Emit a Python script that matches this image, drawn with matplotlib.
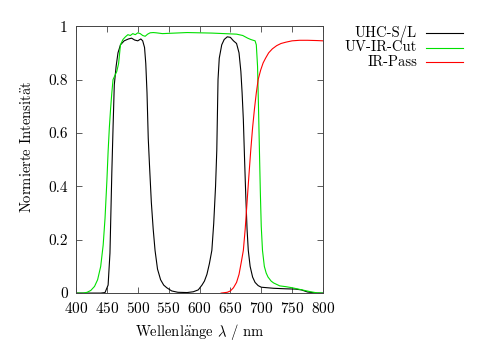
import matplotlib
matplotlib.use('Agg')
import matplotlib.pyplot as plt
from matplotlib.lines import Line2D

# Transmission curves of the three filters (wavelength in nm, normalised intensity)
uhc_wl = [400, 440, 447, 452, 455, 458, 460, 462, 465, 468, 472, 478, 485, 490,
          495, 500, 505, 508, 511, 513, 515, 517, 519, 522, 525, 528, 532, 537,
          542, 547, 555, 565, 580, 590, 598, 604, 608, 612, 616, 620, 623, 626,
          628, 630, 632, 636, 640, 645, 650, 655, 660, 664, 667, 669, 671, 673,
          675, 677, 679, 682, 686, 690, 695, 700, 720, 740, 755, 765, 775, 790, 800]
uhc_val = [0, 0, 0.002, 0.03, 0.15, 0.45, 0.62, 0.78, 0.85, 0.90, 0.93, 0.945,
           0.952, 0.955, 0.948, 0.945, 0.952, 0.945, 0.92, 0.86, 0.75, 0.58, 0.48,
           0.34, 0.24, 0.16, 0.09, 0.05, 0.03, 0.02, 0.008, 0.003, 0.002, 0.005,
           0.012, 0.03, 0.045, 0.07, 0.11, 0.16, 0.26, 0.4, 0.535, 0.8, 0.88, 0.93,
           0.95, 0.96, 0.958, 0.945, 0.935, 0.9, 0.83, 0.75, 0.65, 0.5, 0.36, 0.24,
           0.16, 0.10, 0.06, 0.04, 0.028, 0.022, 0.018, 0.016, 0.015, 0.012, 0.004, 0, 0]

cut_wl = [400, 412, 418, 424, 430, 435, 440, 444, 447, 450, 452, 454, 456, 458,
          460, 463, 466, 469, 472, 476, 480, 484, 488, 492, 496, 500, 504, 508,
          512, 516, 520, 525, 530, 540, 560, 580, 600, 620, 640, 660, 670, 678,
          683, 687, 690, 692, 694, 695.5, 697, 698.5, 700, 702, 705, 708, 711,
          716, 720, 730, 740, 750, 760, 770, 780, 790, 800]
cut_val = [0, 0, 0.003, 0.01, 0.025, 0.05, 0.1, 0.18, 0.28, 0.42, 0.53, 0.62,
           0.69, 0.75, 0.8, 0.815, 0.83, 0.86, 0.93, 0.95, 0.96, 0.968, 0.965,
           0.972, 0.968, 0.975, 0.972, 0.965, 0.962, 0.97, 0.975, 0.976, 0.975,
           0.972, 0.974, 0.976, 0.975, 0.974, 0.972, 0.97, 0.965, 0.955, 0.95,
           0.947, 0.945, 0.93, 0.85, 0.7, 0.54, 0.38, 0.25, 0.16, 0.1, 0.075,
           0.06, 0.045, 0.038, 0.027, 0.024, 0.02, 0.015, 0.01, 0.005, 0.001, 0]

pass_wl = [635, 645, 650, 655, 660, 664, 668, 671, 674, 677, 680, 683, 686, 689,
           692, 695, 699, 703, 707, 712, 718, 725, 732, 740, 750, 762, 775, 790, 800]
pass_val = [0, 0.003, 0.008, 0.02, 0.04, 0.07, 0.12, 0.16, 0.24, 0.34, 0.44,
            0.535, 0.62, 0.69, 0.75, 0.8, 0.835, 0.862, 0.88, 0.9, 0.915, 0.927,
            0.935, 0.94, 0.945, 0.947, 0.947, 0.946, 0.945]

names = ['UHC-S/L', 'UV-IR-Cut', 'IR-Pass']
colors = ['#000000', '#00e000', '#ff0000']

x_ticks = [400, 450, 500, 550, 600, 650, 700, 750, 800]
y_ticks = [0, 0.2, 0.4, 0.6, 0.8, 1]
y_ticklabels = ['0', '0.2', '0.4', '0.6', '0.8', '1']

plt.rcParams['font.family'] = ['cmr10', 'DejaVu Serif']
plt.rcParams['mathtext.fontset'] = 'cm'
plt.rcParams['axes.formatter.use_mathtext'] = True

fig = plt.figure(figsize=(5.0, 3.44), dpi=100)
ax = fig.add_axes([0.152, 0.148, 0.494, 0.776])

series = [(uhc_wl, uhc_val), (cut_wl, cut_val), (pass_wl, pass_val)]
for (wl, val), c in zip(series, colors):
    ax.plot(wl, val, color=c, lw=0.8)

ax.set_xlim(400, 800)
ax.set_ylim(0, 1)
ax.set_xticks(x_ticks)
ax.set_yticks(y_ticks)
ax.set_yticklabels(y_ticklabels)
ax.tick_params(direction='in', top=True, right=True, length=4, width=0.6,
               color='#444444', labelsize=11, pad=6)
for s in ax.spines.values():
    s.set_linewidth(0.7)
    s.set_color('#444444')

ax.set_xlabel(r'Wellenl$\mathrm{\ddot{a}}$nge $\lambda$ / nm', fontsize=10.5)
ax.set_ylabel(r'Normierte Intensit$\mathrm{\ddot{a}}$t', fontsize=10.5)
ax.xaxis.set_label_coords(0.5, -0.11)
ax.yaxis.set_label_coords(-0.17, 0.55)

# gnuplot-style key: right-aligned labels, line sample on the right
W, H = 500, 344
for i, (name, c) in enumerate(zip(names, colors)):
    yp = 1 - (33 + 14.5 * i) / H
    fig.text(417 / W, yp, name, ha='right', va='center', fontsize=10.5)
    fig.add_artist(Line2D([426 / W, 463 / W], [yp, yp], color=c, lw=0.8,
                          transform=fig.transFigure))

fig.savefig('out.png', dpi=100)
